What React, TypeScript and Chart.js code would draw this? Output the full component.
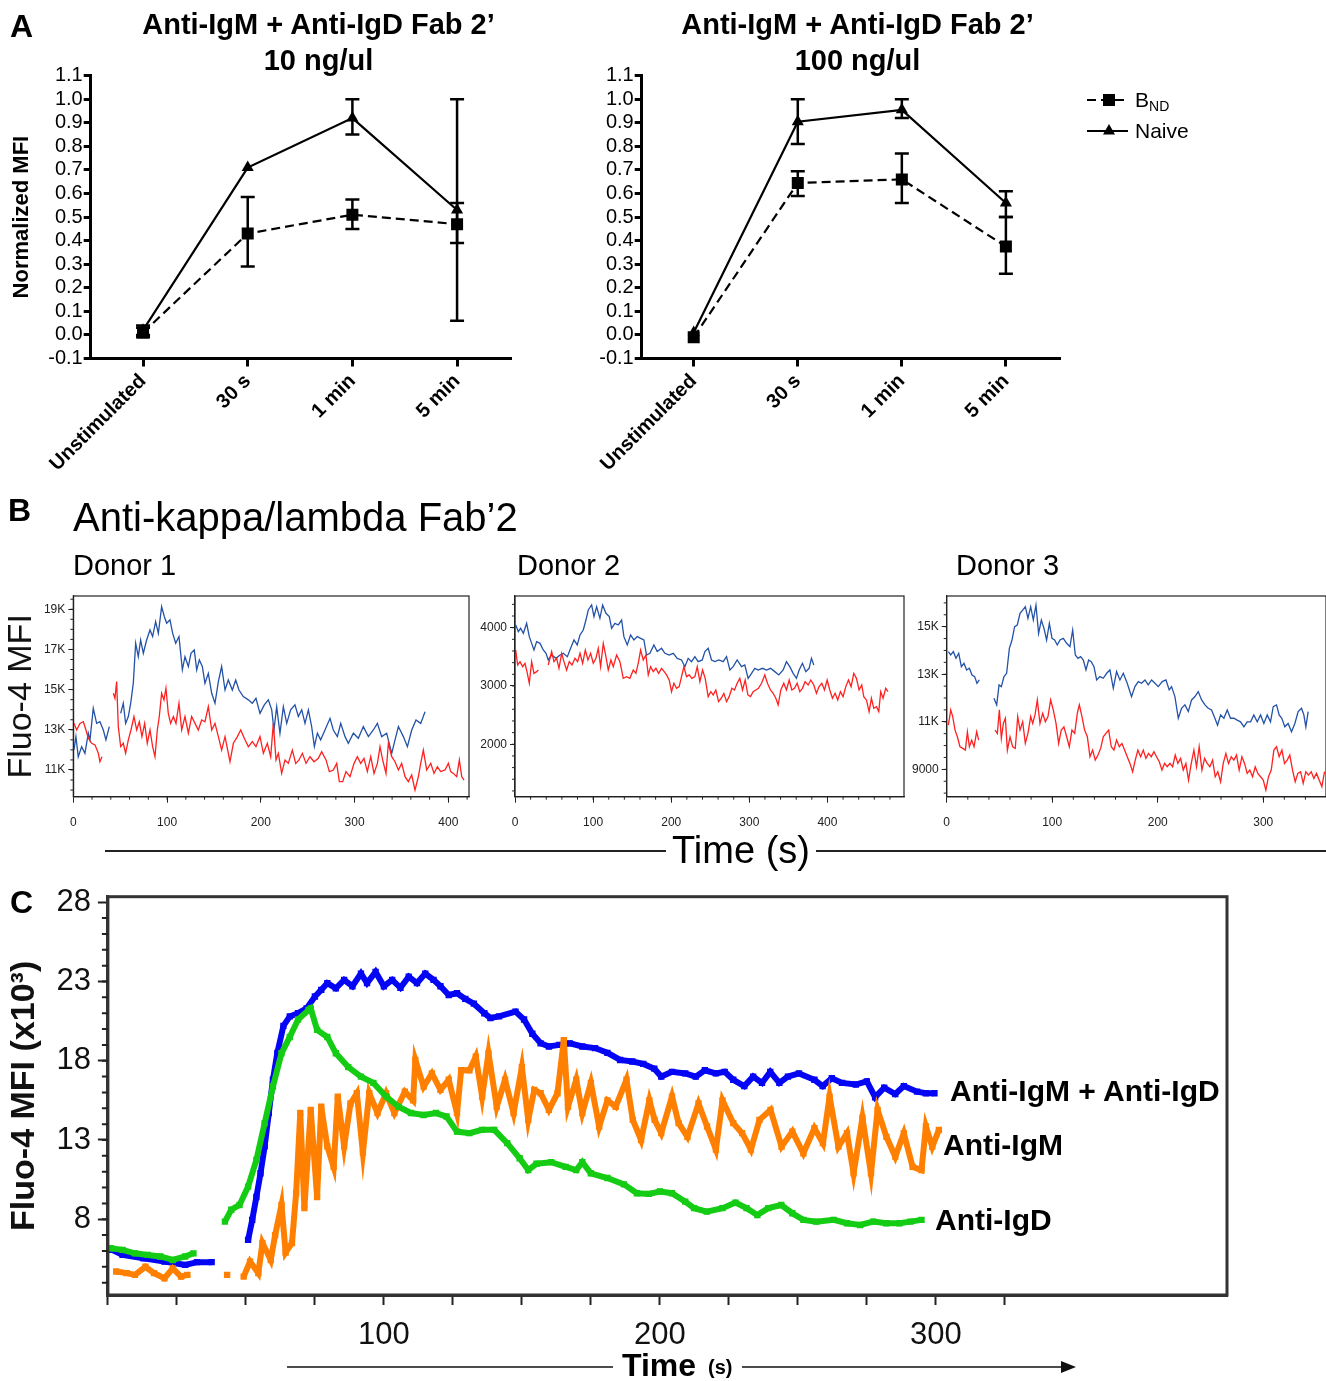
import React, { useEffect, useRef } from "react";
import { Chart, registerables } from "chart.js";

Chart.register(...registerables);

const SANS = "'Liberation Sans', Arial, Helvetica, sans-serif";
const NARROW = "'Liberation Sans Narrow', 'Arial Narrow', 'Liberation Sans', Arial, sans-serif";
Chart.defaults.font.family = SANS;

type Pt = [number, number];

// ---------------- Panel A data ----------------
const aCategories = ["Unstimulated", "30 s", "1 min", "5 min"];
const aYTicks = [-0.1, 0, 0.1, 0.2, 0.3, 0.4, 0.5, 0.6, 0.7, 0.8, 0.9, 1.0, 1.1];

const a10Bnd = [0.01, 0.43, 0.51, 0.47];
const a10BndLo = [-0.01, 0.29, 0.45, 0.39];
const a10BndHi = [0.03, 0.585, 0.575, 0.56];
const a10Naive = [0.02, 0.71, 0.92, 0.53];
const a10NaiveLo = [0.0, null, 0.85, 0.06];
const a10NaiveHi = [0.04, null, 1.0, 1.0];

const a100Bnd = [-0.01, 0.645, 0.66, 0.375];
const a100BndLo = [null, 0.59, 0.56, 0.26];
const a100BndHi = [null, 0.695, 0.77, 0.5];
const a100Naive = [0.01, 0.905, 0.955, 0.56];
const a100NaiveLo = [null, 0.81, 0.92, 0.5];
const a100NaiveHi = [null, 1.0, 1.0, 0.61];

// ---------------- Panel B data (time s, MFI) ----------------
// Donor 1 (values in thousands)
const b1BlueA: Pt[] = [[0.7,12.0],[2.8,12.66],[5.3,11.66],[8.9,12.16],[12.4,11.83],[16,12.83],[17.8,12.5],[21.3,14.07],[24.9,13.32],[28.4,13.4],[32,12.99],[34.8,12.5],[38.4,13.16]];
const b1BlueB: Pt[] = [[50.5,13.82],[53.3,14.32],[55.8,13.32],[58.7,13.66],[61.2,14.32],[64,15.32],[66.5,17.31],[69.3,16.64],[71.8,17.47],[74.7,16.81],[78.2,17.47],[81.8,17.97],[84.6,17.64],[87.8,18.39],[90.7,17.8],[94.2,19.13],[97.1,18.63],[99.6,18.3],[103.1,18.47],[106,17.8],[109.2,17.31],[112.7,17.64],[116.3,15.98],[119.1,16.64],[122.7,16.15],[125.5,16.81],[129,16.98],[131.6,15.98],[134.4,16.48],[137.6,16.15],[140.4,15.32],[144,15.81],[147.6,14.82],[151.1,14.32],[154.7,15.4],[158.2,16.15],[161.8,14.98],[165.3,15.48],[169.6,14.98],[173.2,15.48],[176.7,14.98],[181.3,14.65],[186.7,14.49],[190.9,14.32],[194.8,14.57],[199.1,13.82],[203.7,14.24],[208,14.49],[211.6,13.99],[214,12.99],[216.9,14.15],[220.4,12.83],[224,14.15],[227.6,13.32],[231.8,13.99],[236.4,14.24],[240,13.66],[243.6,13.99],[247.1,13.32],[250.7,13.99],[254.2,13.16],[257.1,12.16],[260.3,12.83],[263.8,12.5],[268.4,12.99],[273.8,13.57],[277.3,12.99],[281.6,12.66],[285.2,13.32],[289.8,12.66],[293.3,12.33],[298.7,12.83],[304,12.58],[309.3,13.16],[314.7,12.66],[320,12.99],[324.3,13.32],[328.9,12.66],[334.2,12.83],[339.6,11.83],[343.1,12.5],[346.7,13.16],[352,12.66],[356.3,12.16],[360.9,12.99],[365.5,13.49],[370.5,13.32],[375.1,13.9]];
const b1RedA: Pt[] = [[0.7,13.32],[3.6,12.99],[7.1,13.32],[10.7,13.4],[13.5,12.99],[16,12.58],[19.6,12.33],[23.1,12.25],[26.7,11.83],[28.4,11.41],[30.6,11.66]];
const b1RedB: Pt[] = [[42.7,14.82],[44.4,14.57],[46.2,15.4],[48,13.16],[50.5,12.16],[53.3,12.33],[55.8,11.83],[58.7,12.5],[61.5,12.99],[64.7,13.66],[67.6,12.99],[70.4,13.4],[73.2,12.66],[76.1,13.32],[78.9,12.33],[81.8,12.99],[84.6,12.16],[87.1,11.66],[89.6,12.99],[91.7,13.66],[94.2,14.82],[96.7,14.49],[98.8,15.07],[101.3,13.82],[103.8,13.32],[106.7,13.66],[109.5,13.32],[112.7,14.32],[115.6,12.99],[119.1,13.66],[122.7,12.83],[126.2,13.66],[129.8,13.32],[133.3,12.99],[136.9,13.49],[140.4,13.4],[144,14.15],[147.6,12.99],[151.1,13.32],[154.7,12.66],[158.2,11.99],[161.8,12.66],[167.1,11.41],[170.7,12.33],[175,12.66],[178.5,12.99],[183.1,12.5],[186.7,12.16],[190.9,12.41],[194.8,12.16],[199.1,12.66],[202.7,11.83],[206.9,12.33],[210.5,11.66],[213.3,13.32],[216.2,11.5],[218.7,11.83],[222.2,10.83],[225.8,11.5],[229.3,11.33],[233.6,11.99],[237.2,11.33],[240.7,11.5],[244.3,11.83],[248.2,11.33],[252.4,11.66],[256.7,11.41],[261.3,11.58],[264.9,11.91],[269.5,11.5],[273.1,10.92],[277.3,11.0],[280.9,11.33],[283.7,10.42],[287.3,10.42],[290.8,10.92],[295.1,10.67],[299.4,11.33],[302.9,11.66],[306.5,11.33],[310,11.58],[313.6,10.92],[317.2,11.66],[320.7,10.83],[324.3,11.33],[327.1,12.16],[329.9,11.5],[333.5,10.83],[336,12.33],[339.6,11.66],[343.1,11.41],[346.7,11.0],[350.2,11.33],[353.8,10.67],[357.3,10.42],[360.9,10.75],[364.4,10.0],[368,10.67],[370.5,11.33],[373.3,11.99],[376.9,11.0],[381.2,11.33],[384.7,10.83],[388.3,11.16],[391.8,10.92],[396.4,11.0],[400,11.33],[402.5,10.92],[405.3,10.83],[408.9,10.67],[411.7,11.5],[414.2,10.67],[416.7,10.5]];
const b1XTicks = [0, 100, 200, 300, 400];
const b1YTicks = [11, 13, 15, 17, 19];

// Donor 2 (raw values)
const b2Blue: Pt[] = [[0.9,4046],[4.3,3931],[7.2,3989],[10.7,3903],[14.9,4074],[18.3,3846],[21.3,3731],[24.3,3617],[27.7,3760],[32,3731],[36.2,3617],[39.7,3560],[42.6,3446],[46.9,3531],[52.5,3474],[57.6,3531],[61.8,3560],[67,3503],[71.2,3646],[75.5,3789],[79.7,3703],[83.2,3874],[87.4,3960],[90.8,4131],[93.8,4303],[98.1,4389],[101.1,4189],[104.5,4360],[108.7,4160],[112.2,4389],[116.4,4246],[120.7,4189],[123.7,3989],[127.9,4074],[132.2,4046],[136.5,4131],[139.4,3846],[143.7,3703],[148,3874],[152.2,3789],[156.5,3846],[160.8,3817],[165,3789],[168.4,3531],[172.7,3560],[177.8,3703],[182.1,3589],[187.6,3646],[191.9,3560],[197.4,3531],[202.6,3560],[207.7,3474],[213.2,3446],[217.5,3331],[221.7,3474],[226,3417],[230.3,3503],[234.5,3417],[239.7,3446],[243.1,3589],[247.3,3646],[251.6,3446],[255.9,3417],[261,3446],[266.5,3417],[270.8,3503],[275.1,3274],[279.3,3331],[284.4,3446],[290,3331],[294.2,3360],[298.5,3131],[302.8,3217],[307,3303],[311.3,3274],[316.8,3303],[322,3274],[327.1,3303],[332.6,3246],[337.7,3189],[343.3,3274],[347.5,3417],[351.8,3331],[356.1,3217],[360.3,3131],[363.8,3274],[368,3389],[372.3,3246],[376.5,3303],[379.5,3474],[382.5,3360]];
const b2RedA: Pt[] = [[0.9,3617],[3.4,3360],[6.4,3417],[9.8,3331],[12.8,3389],[15.8,3217],[18.3,3046],[21.3,3417],[24.3,3217],[27.7,3246],[29.9,3274]];
const b2RedB: Pt[] = [[42.6,3360],[46.9,3589],[49.9,3417],[53.3,3474],[56.3,3303],[59.7,3560],[62.7,3417],[66.1,3274],[69.5,3417],[72.9,3360],[76.8,3474],[80.2,3417],[83.2,3560],[86.6,3389],[90,3617],[93.4,3446],[96.8,3560],[100.2,3389],[103.6,3474],[106.6,3646],[109.6,3331],[113,3731],[116.4,3503],[119.4,3274],[122.8,3446],[125.8,3331],[130.1,3531],[134.3,3417],[138.6,3131],[142.9,3160],[147.1,3131],[151.4,3274],[154.8,3217],[158.2,3417],[160.8,3617],[164.2,3446],[167.6,3531],[170.6,3189],[173.6,3331],[177,3246],[180.4,3303],[183.8,3217],[187.6,3303],[191,3246],[194,3189],[197.4,3103],[200.4,2903],[203.4,3046],[206.8,2960],[210.2,2989],[213.2,3160],[216.2,3331],[219.6,3160],[223,3189],[226.4,3131],[230.3,3160],[233.3,3331],[236.7,3074],[240.1,3274],[243.5,3131],[247.3,2817],[250.7,2903],[253.7,2846],[257.1,2931],[260.6,2731],[264,2789],[267.4,2874],[270.8,2731],[274.2,2817],[277.6,2960],[281,2931],[284.4,3046],[287.8,3131],[291.3,2931],[294.7,3103],[298.1,2846],[301.5,2817],[304.9,2903],[308.3,2931],[311.7,2960],[315.6,3046],[319.8,3189],[323.2,3046],[327.1,2931],[330.5,2874],[333.9,2789],[336.9,2674],[340.3,2931],[344.1,3046],[347.5,2931],[351,3103],[354.4,2931],[357.8,2960],[361.2,3046],[364.6,2903],[368,2960],[371.4,3074],[375.3,3017],[378.7,3103],[382.5,3017],[385.9,2874],[389.3,2989],[392.8,3046],[396.2,2931],[399.6,3103],[403,2931],[406.4,2789],[409.8,2874],[413.2,2760],[416.6,2903],[420,2817],[423.5,2989],[426.9,3103],[430.3,2989],[433.7,3217],[437.1,3131],[440.5,2931],[443.9,3017],[446.5,2817],[449.9,2760],[453.3,2560],[456.3,2789],[459.3,2617],[462.7,2646],[465.7,2560],[468.2,2903],[471.2,2789],[474.6,2960],[477.6,2903]];
const b2XTicks = [0, 100, 200, 300, 400];
const b2YTicks = [2000, 3000, 4000];

// Donor 3 (values in thousands)
const b3BlueA: Pt[] = [[1.6,13.95],[3.8,13.81],[6.3,13.95],[8.8,13.67],[11.4,13.88],[13.9,13.32],[16.4,13.46],[18.9,13.18],[21.5,13.25],[24,12.97],[26.5,12.9],[28.7,12.62],[30.9,12.76]];
const b3BlueB: Pt[] = [[44.8,11.99],[47.4,11.71],[49.6,12.55],[51.8,12.48],[54.3,12.9],[56.8,13.04],[59.4,14.09],[61.9,14.44],[64.4,15.0],[66.9,15.07],[69.5,15.56],[72,15.7],[74.5,15.84],[77,15.35],[79.6,15.84],[82.1,15.28],[84.6,15.91],[87.1,14.72],[89.7,15.28],[92.2,14.93],[94.7,14.44],[97.3,15.14],[99.8,14.51],[102.3,14.44],[104.8,14.23],[107.4,14.44],[110.5,14.51],[113.7,14.3],[116.8,14.16],[119.4,14.86],[121.9,13.81],[124.4,13.67],[126.9,13.74],[129.5,13.6],[132,13.18],[134.5,13.6],[137,13.53],[139.6,13.32],[142.1,12.76],[145.2,12.9],[148.4,12.83],[151.6,13.04],[154.7,13.18],[157.9,12.41],[161,13.11],[164.2,12.76],[167.4,13.04],[171.1,12.62],[175.2,12.06],[178.4,12.48],[181.6,12.69],[184.7,12.62],[187.9,12.76],[191,12.55],[194.2,12.76],[197.4,12.62],[200.5,12.48],[204.3,12.69],[207.8,12.76],[210.9,12.34],[213.1,12.48],[216.3,12.06],[219.5,11.15],[222.6,11.57],[225.8,11.71],[229,11.43],[232.1,11.92],[235.3,12.06],[238.4,12.27],[241.6,11.92],[244.8,11.71],[247.9,11.57],[251,11.5],[254.2,11.15],[256.7,10.86],[259.6,11.29],[262.7,11.15],[265.9,11.5],[269,11.15],[272.2,11.15],[275.3,11.07],[278.5,11.0],[281.7,10.79],[284.8,11.0],[288,11.0],[291.1,11.29],[294.3,11.0],[297.5,11.29],[300.6,10.93],[303.8,11.29],[306.9,11.0],[309.5,11.64],[312.6,11.71],[315.1,11.29],[317.6,11.15],[320.5,10.79],[323.6,10.93],[326.8,10.58],[330,10.93],[333.1,11.43],[336.3,11.57],[338.5,11.29],[340.4,10.79],[342.6,11.43]];
const b3RedA: Pt[] = [[1.6,10.86],[3.8,11.5],[5.7,11.22],[7.9,10.65],[10.1,10.37],[12.6,9.95],[15.2,9.88],[17.7,9.81],[19.6,10.58],[21.5,9.95],[23.7,10.23],[25.9,9.95],[28.4,10.58],[30.3,10.23]];
const b3RedB: Pt[] = [[45.8,10.65],[48,10.51],[49.9,11.5],[51.8,10.3],[53.7,10.93],[55.6,11.15],[57.5,9.81],[60,10.37],[62.5,9.95],[65,9.88],[67.3,11.22],[69.5,10.65],[72,11.0],[74.5,10.09],[77,10.51],[79.6,11.22],[81.5,10.93],[83.7,11.29],[85.9,11.92],[88.4,10.93],[91,11.36],[93.5,11.0],[96,11.22],[98.5,11.92],[101,11.5],[103.6,10.93],[106.1,10.09],[108.6,10.65],[111.1,10.79],[113.7,10.37],[116.2,9.95],[118.7,10.65],[121.3,10.51],[123.8,11.36],[125.7,11.71],[128.2,11.22],[130.7,10.65],[133.3,10.37],[135.8,9.53],[138.3,9.81],[140.8,9.39],[143.4,9.6],[145.9,9.88],[148.4,10.37],[150.9,10.51],[153.5,10.65],[156,9.95],[158.5,9.81],[161,10.23],[163.6,9.95],[166.1,10.09],[168.6,9.81],[171.1,9.53],[173.7,9.25],[176.2,8.9],[178.7,9.39],[181.2,9.81],[183.8,9.53],[186.3,9.81],[188.8,9.46],[191.3,9.67],[193.9,9.53],[196.4,9.74],[198.9,9.53],[201.5,9.32],[204,8.97],[206.5,9.25],[209,9.11],[211.6,9.25],[214.1,9.11],[216.6,9.6],[219.1,9.25],[221.7,9.46],[224.2,8.97],[226.7,9.25],[229.2,8.55],[231.8,9.25],[234.3,9.81],[236.8,9.11],[239.3,9.95],[241.9,8.97],[244.4,9.46],[246.9,9.25],[249.4,9.11],[252,9.39],[254.5,8.69],[257,8.9],[259.6,8.48],[262.1,9.25],[264.6,9.67],[267.1,9.25],[269.7,9.53],[272.2,9.39],[274.7,9.6],[277.2,8.97],[279.8,9.53],[282.3,9.25],[284.8,8.83],[287.3,8.97],[289.9,8.69],[292.4,9.11],[294.9,8.83],[297.5,8.69],[300,8.55],[302.5,8.13],[305,8.69],[307.6,8.97],[310.1,9.81],[312.6,9.95],[315.1,9.53],[317.7,9.81],[320.2,9.25],[322.7,9.39],[325.2,9.6],[327.8,8.97],[330.3,8.48],[332.8,8.83],[335.4,8.9],[337.9,8.41],[340.4,8.9],[342.9,8.76],[345.5,8.9],[348,8.62],[350.5,8.83],[353,8.55],[355.6,8.27],[358.1,8.9]];
const b3XTicks = [0, 100, 200, 300];
const b3YTicks = [9, 11, 13, 15];

// ---------------- Panel C data (time s, MFI x10^3) ----------------
const cBlueA: Pt[] = [[1.5,6.07],[5.3,5.75],[12.9,5.54],[20.5,5.33],[28,5.12],[32.3,5.29],[37.6,5.29]];
const cBlueB: Pt[] = [[50.8,6.7],[52.3,7.96],[53.8,9.4],[55.3,10.9],[56.8,12.6],[58.3,14.7],[59.8,16.8],[61.4,18.5],[63.6,20.2],[65.9,20.8],[68.9,21.0],[72,21.3],[75,22.05],[77.3,22.47],[79.5,22.9],[82.6,22.57],[85.6,23.1],[88.6,22.7],[91.7,23.5],[93.9,22.9],[97,23.6],[100,22.7],[103,23.1],[106,22.6],[109,23.3],[112,22.9],[115,23.5],[118,23.1],[120.5,22.7],[123.5,22.15],[126.5,22.26],[129.5,21.9],[132.6,21.6],[136.4,21.0],[138.6,20.7],[141.7,20.8],[147.7,21.1],[150.8,20.6],[153.8,19.7],[156.8,19.1],[159.8,18.9],[163.6,19.0],[167.4,19.1],[171.9,18.9],[176.5,18.8],[181,18.5],[185.6,18.05],[190,17.95],[194,17.8],[198,17.5],[200.5,17.0],[204.4,17.3],[209.2,17.2],[213,17.0],[216.3,17.4],[220.3,17.2],[223.5,17.3],[226.6,16.8],[230.6,16.4],[233.8,17.0],[237,16.6],[240,17.3],[243.3,16.6],[246.4,17.0],[250.4,17.2],[256,16.8],[259,16.4],[262.3,16.9],[266,16.6],[271,16.5],[275,16.7],[278,15.7],[281.3,16.3],[285.3,15.9],[288.4,16.4],[293.2,16.05],[296.4,15.95],[299.5,15.95]];
const cGreenA: Pt[] = [[1,6.17],[5.3,6.07],[9.8,5.85],[14.4,5.75],[19,5.65],[23.5,5.43],[28,5.65],[31,5.85]];
const cGreenB: Pt[] = [[42.4,7.85],[44.7,8.6],[47.7,8.9],[50.8,10.06],[53.8,11.74],[56.8,14.06],[59.8,16.37],[62.9,18.47],[65.9,19.5],[68.9,20.6],[72.7,21.2],[73.5,21.3],[75.8,19.95],[79.5,19.5],[82.6,18.47],[87.1,17.6],[91.7,17.0],[96.2,16.6],[100.8,15.74],[105.3,15.1],[109.8,14.7],[114.4,14.58],[118.9,14.7],[122.7,14.48],[126.5,13.53],[131,13.43],[135.6,13.64],[140,13.64],[144.7,12.8],[149.2,11.85],[152.3,11.1],[155.3,11.5],[160.6,11.6],[165.9,11.3],[169.7,11.1],[171.9,11.6],[175,10.9],[181,10.6],[187,10.2],[191.7,9.64],[196,9.6],[200,9.75],[204.4,9.64],[209.2,9.11],[212.4,8.7],[217,8.48],[222.7,8.7],[227.4,9.05],[231.4,8.7],[235.3,8.27],[239.3,8.7],[244,8.9],[248,8.38],[252,7.96],[256.7,7.85],[263,7.96],[267.8,7.75],[272.6,7.64],[277.3,7.85],[282,7.75],[286.8,7.75],[290.8,7.85],[294.8,7.96]];
const cOrangeA: Pt[] = [[3,4.7],[6.8,4.6],[9.8,4.49],[13.6,5.0],[16.7,4.6],[20.5,4.28],[23.5,4.9],[26.5,4.38],[28.8,4.49]];
const cOrangeDot: Pt[] = [[43.2,4.49]];
const cOrangeB: Pt[] = [[49.2,4.38],[51.5,5.33],[54.5,4.6],[56,6.5],[59,5.43],[60.6,7.0],[62.9,8.9],[64.4,5.9],[66.7,6.5],[68.2,9.64],[69.7,14.7],[71.2,8.7],[73.5,14.9],[75.8,9.4],[77.3,15.1],[79.5,12.6],[81.8,11.3],[83.3,15.74],[85.6,12.6],[87.9,15.3],[90.2,15.95],[92.4,12.2],[94.7,15.95],[97.7,14.7],[100.8,15.95],[103.8,14.7],[107.6,16.05],[110.6,15.5],[111.4,18.05],[114.4,16.37],[117.4,17.2],[120.5,16.16],[123.5,16.8],[126.5,14.7],[128,17.4],[131,17.4],[133.3,18.26],[135.6,15.74],[137.9,18.47],[140.9,15.1],[143.9,16.8],[147,14.7],[150,17.6],[152.3,14.27],[154.5,16.16],[156.8,15.95],[159.8,14.9],[162.9,15.95],[165.2,19.3],[166.7,15.1],[169.7,16.8],[171.9,14.7],[175,16.6],[178,13.85],[181,15.5],[184,15.1],[187.9,16.8],[190.2,14.27],[193.2,13.0],[196.2,15.5],[198.1,14.27],[200.5,13.43],[204.4,15.74],[206.8,14.06],[210,13.2],[214,15.3],[217.1,13.85],[220.3,12.4],[222.7,15.5],[226.6,14.06],[229.8,13.43],[233,12.4],[236.1,14.27],[240.1,14.9],[244.1,12.58],[248,13.53],[252,12.16],[256,13.74],[259.1,12.8],[261.5,15.74],[264.7,12.58],[267.8,13.43],[270.2,10.9],[273.4,14.4],[276.5,10.9],[278.9,14.9],[282.1,13.2],[285.3,11.95],[288.4,13.43],[291.6,11.3],[294.8,11.1],[296.4,13.85],[298.7,12.58],[301.1,13.64]];
const cXTicks = [0, 25, 50, 75, 100, 125, 150, 175, 200, 225, 250, 275, 300, 325];
const cXLabelled = [100, 200, 300];
const cYTicks = [8, 13, 18, 23, 28];

// ---------------- helpers ----------------
const steps = (a: number, b: number, s: number) => {
  const r: number[] = [];
  for (let v = a; v <= b + 1e-9; v += s) r.push(Math.round(v * 1000) / 1000);
  return r;
};

function joinSegments(...segs: Pt[][]) {
  const out: any[] = [];
  segs.forEach((s, i) => {
    if (i > 0) {
      const prev = segs[i - 1];
      out.push({ x: (prev[prev.length - 1][0] + s[0][0]) / 2, y: null });
    }
    s.forEach(([x, y]) => out.push({ x, y }));
  });
  return out;
}

function framePlugin(color: string, width: number) {
  return {
    id: "frameBox",
    afterDatasetsDraw(chart: any) {
      const { ctx, chartArea: a } = chart;
      ctx.save();
      ctx.strokeStyle = color;
      ctx.lineWidth = width;
      ctx.strokeRect(a.left, a.top, a.right - a.left, a.bottom - a.top);
      ctx.restore();
    },
  };
}

function minorTicks(xVals: number[], yVals: number[], len: number, width: number, color: string) {
  return {
    id: "minorTicks",
    afterDraw(chart: any) {
      const { ctx, chartArea: a, scales } = chart;
      ctx.save();
      ctx.strokeStyle = color;
      ctx.lineWidth = width;
      ctx.beginPath();
      xVals.forEach((v) => {
        const p = scales.x.getPixelForValue(v);
        ctx.moveTo(p, a.bottom);
        ctx.lineTo(p, a.bottom + len);
      });
      yVals.forEach((v) => {
        const p = scales.y.getPixelForValue(v);
        ctx.moveTo(a.left, p);
        ctx.lineTo(a.left - len, p);
      });
      ctx.stroke();
      ctx.restore();
    },
  };
}

function errorBars(specs: { lo: (number | null)[]; hi: (number | null)[] }[], cap: number, width: number) {
  return {
    id: "errorBars",
    afterDatasetsDraw(chart: any) {
      const { ctx, scales } = chart;
      ctx.save();
      ctx.strokeStyle = "#000";
      ctx.lineWidth = width;
      ctx.setLineDash([]);
      specs.forEach((s) => {
        s.lo.forEach((lo, i) => {
          const hi = s.hi[i];
          if (lo == null || hi == null) return;
          const px = scales.x.getPixelForValue(i);
          const y1 = scales.y.getPixelForValue(lo);
          const y2 = scales.y.getPixelForValue(hi);
          ctx.beginPath();
          ctx.moveTo(px, y1);
          ctx.lineTo(px, y2);
          ctx.moveTo(px - cap / 2, y1);
          ctx.lineTo(px + cap / 2, y1);
          ctx.moveTo(px - cap / 2, y2);
          ctx.lineTo(px + cap / 2, y2);
          ctx.stroke();
        });
      });
      ctx.restore();
    },
  };
}

const baseOpts = {
  animation: false,
  responsive: false,
  devicePixelRatio: 1,
  events: [],
};

function aConfig(bnd: number[], bndLo: any[], bndHi: any[], naive: number[], naiveLo: any[], naiveHi: any[], yWidth: number, padRight: number, showTitle: boolean) {
  const toPts = (arr: number[]) => arr.map((v, i) => ({ x: i, y: v }));
  return {
    type: "line",
    data: {
      datasets: [
        { label: "BND", data: toPts(bnd), borderColor: "#000", backgroundColor: "#000", borderWidth: 2.2, borderDash: [9, 5], pointStyle: "rect", pointRadius: 8.5, pointBorderWidth: 0, tension: 0 },
        { label: "Naive", data: toPts(naive), borderColor: "#000", backgroundColor: "#000", borderWidth: 2.2, pointStyle: "triangle", pointRadius: 7, pointBorderWidth: 0, tension: 0 },
      ],
    },
    options: {
      ...baseOpts,
      layout: { padding: { top: 15.7, right: padRight, bottom: 0, left: 0 } },
      plugins: { legend: { display: false }, tooltip: { enabled: false } },
      scales: {
        x: {
          type: "linear",
          min: -0.5,
          max: 3.52,
          afterBuildTicks: (s: any) => { s.ticks = aCategories.map((_, i) => ({ value: i })); },
          afterFit: (s: any) => { s.height = 141.5; },
          ticks: {
            callback: (v: any) => aCategories[Math.round(Number(v))] || "",
            autoSkip: false, minRotation: 45, maxRotation: 45, padding: 3, color: "#000",
            font: { family: SANS, size: 20, weight: "bold" },
          },
          grid: { drawOnChartArea: false, drawTicks: true, tickLength: 8, tickWidth: 3, tickColor: "#000" },
          border: { display: true, color: "#000", width: 3 },
        },
        y: {
          type: "linear",
          min: -0.1,
          max: 1.1,
          afterBuildTicks: (s: any) => { s.ticks = aYTicks.map((v) => ({ value: v })); },
          afterFit: (s: any) => { s.width = yWidth; },
          ticks: { callback: (v: any) => Number(v).toFixed(1), autoSkip: false, padding: 1, color: "#000", font: { family: SANS, size: 20 } },
          grid: { drawOnChartArea: false, drawTicks: true, tickLength: 7, tickWidth: 3, tickColor: "#000" },
          border: { display: true, color: "#000", width: 3 },
          title: { display: showTitle, text: "Normalized MFI", color: "#000", font: { family: SANS, size: 22, weight: "bold" }, padding: { top: 8.8, bottom: 0 } },
        },
      },
    },
    plugins: [errorBars([{ lo: bndLo, hi: bndHi }, { lo: naiveLo, hi: naiveHi }], 14, 2.5)],
  };
}

function bConfig(o: any) {
  return {
    type: "line",
    data: {
      datasets: [
        { data: o.red, borderColor: "#FF2020", borderWidth: 1.3, pointRadius: 0, spanGaps: false, tension: 0, order: 0 },
        { data: o.blue, borderColor: "#2352A8", borderWidth: 1.3, pointRadius: 0, spanGaps: false, tension: 0, order: 1 },
      ],
    },
    options: {
      ...baseOpts,
      layout: { padding: { top: 16, right: o.padRight, bottom: 0, left: 0 } },
      plugins: { legend: { display: false }, tooltip: { enabled: false } },
      scales: {
        x: {
          type: "linear",
          min: 0,
          max: o.xMax,
          afterBuildTicks: (s: any) => { s.ticks = o.xTicks.map((v: number) => ({ value: v })); },
          afterFit: (s: any) => { s.height = 38.3; },
          ticks: { callback: (v: any) => String(v), autoSkip: false, maxRotation: 0, padding: 13, color: "#222", font: { family: NARROW, size: 12 } },
          grid: { drawOnChartArea: false, drawTicks: true, tickLength: 6, tickWidth: 1, tickColor: "#222" },
          border: { display: true, color: "#222", width: 1.2 },
        },
        y: {
          type: "linear",
          min: o.yMin,
          max: o.yMax,
          afterBuildTicks: (s: any) => { s.ticks = o.yTicks.map((v: number) => ({ value: v })); },
          afterFit: (s: any) => { s.width = o.yWidth; },
          ticks: { callback: o.yFmt, autoSkip: false, padding: 3, color: "#222", font: { family: NARROW, size: 12 } },
          grid: { drawOnChartArea: false, drawTicks: true, tickLength: 5, tickWidth: 1, tickColor: "#222" },
          border: { display: true, color: "#222", width: 1.2 },
          title: o.yTitle
            ? { display: true, text: o.yTitle, color: "#111", font: { family: SANS, size: 34 }, padding: { top: 1.6, bottom: 0 } }
            : { display: false },
        },
      },
    },
    plugins: [minorTicks(o.xMinor, o.yMinor, 3, 1, "#222"), framePlugin("#222", 1.2)],
  };
}

function cConfig() {
  const ds = (data: any[], color: string, order: number) => ({
    data, borderColor: color, backgroundColor: color, borderWidth: 6, pointStyle: "rect", pointRadius: 4.5,
    pointBorderWidth: 0, spanGaps: false, tension: 0, order,
  });
  return {
    type: "line",
    data: {
      datasets: [
        ds(joinSegments(cGreenA, cGreenB), "#14CC14", 0),
        ds(joinSegments(cOrangeA, cOrangeDot, cOrangeB), "#FF8000", 1),
        ds(joinSegments(cBlueA, cBlueB), "#0505F5", 2),
      ],
    },
    options: {
      ...baseOpts,
      layout: { padding: { top: 30.7, right: 99, bottom: 0, left: 0 } },
      plugins: { legend: { display: false }, tooltip: { enabled: false } },
      scales: {
        x: {
          type: "linear",
          min: 0,
          max: 405.5,
          afterBuildTicks: (s: any) => { s.ticks = cXTicks.map((v) => ({ value: v })); },
          afterFit: (s: any) => { s.height = 71; },
          ticks: {
            callback: (v: any) => (cXLabelled.includes(Number(v)) ? String(v) : ""),
            autoSkip: false, maxRotation: 0, padding: 12, color: "#111", font: { family: SANS, size: 31 },
          },
          grid: { drawOnChartArea: false, drawTicks: true, tickLength: 10, tickWidth: 2, tickColor: "#222" },
          border: { display: true, color: "#333", width: 3 },
        },
        y: {
          type: "linear",
          min: 3.22,
          max: 28.35,
          afterBuildTicks: (s: any) => { s.ticks = cYTicks.map((v) => ({ value: v })); },
          afterFit: (s: any) => { s.width = 107.9; },
          ticks: { callback: (v: any) => String(v), autoSkip: false, padding: 7, color: "#111", font: { family: SANS, size: 31 } },
          grid: { drawOnChartArea: false, drawTicks: true, tickLength: 10, tickWidth: 2, tickColor: "#222" },
          border: { display: true, color: "#333", width: 3 },
          title: { display: true, text: "Fluo-4 MFI (x10\u00B3)", color: "#111", font: { family: SANS, size: 34, weight: "bold" }, padding: { top: 4.6, bottom: 0 } },
        },
      },
    },
    plugins: [minorTicks([], steps(4, 27, 1), 6, 2, "#222"), framePlugin("#333", 3)],
  };
}

// ---------------- components ----------------
function ChartCanvas({ left, top, width, height, make }: any) {
  const ref = useRef<HTMLCanvasElement | null>(null);
  useEffect(() => {
    const chart = new Chart(ref.current as any, make());
    return () => chart.destroy();
  }, []);
  return (
    <canvas
      ref={ref}
      width={width}
      height={height}
      style={{ position: "absolute", left, top, width, height, display: "block" }}
    />
  );
}

function Txt({ x, y, size, bold, children, w, align, family }: any) {
  const style: any = {
    position: "absolute",
    top: y,
    fontSize: size,
    fontWeight: bold ? 700 : 400,
    lineHeight: 1,
    whiteSpace: "nowrap",
    fontFamily: family || SANS,
    color: "#000",
  };
  if (align === "center") {
    style.left = x - w / 2;
    style.width = w;
    style.textAlign = "center";
  } else {
    style.left = x;
  }
  return <div style={style}>{children}</div>;
}

export default function App() {
  return (
    <div style={{ position: "absolute", left: 0, top: 0, width: 1326, height: 1381, background: "#fff", overflow: "hidden", fontFamily: SANS }}>
      {/* Panel A */}
      <ChartCanvas left={0} top={60} width={520} height={440}
        make={() => aConfig(a10Bnd, a10BndLo, a10BndHi, a10Naive, a10NaiveLo, a10NaiveHi, 90.7, 7, true)} />
      <ChartCanvas left={550} top={60} width={520} height={440}
        make={() => aConfig(a100Bnd, a100BndLo, a100BndHi, a100Naive, a100NaiveLo, a100NaiveHi, 91.7, 10, false)} />

      {/* Panel B */}
      <ChartCanvas left={0} top={580} width={480} height={255}
        make={() => bConfig({
          blue: joinSegments(b1BlueA, b1BlueB), red: joinSegments(b1RedA, b1RedB),
          xMax: 422, yMin: 9.67, yMax: 19.66, xTicks: b1XTicks, yTicks: b1YTicks,
          yFmt: (v: any) => `${v}K`, xMinor: steps(20, 420, 20), yMinor: steps(10, 19.5, 0.5),
          yWidth: 73.3, padRight: 11, yTitle: "Fluo-4 MFI",
        })} />
      <ChartCanvas left={480} top={580} width={435} height={255}
        make={() => bConfig({
          blue: joinSegments(b2Blue), red: joinSegments(b2RedA, b2RedB),
          xMax: 498, yMin: 1101, yMax: 4543, xTicks: b2XTicks, yTicks: b2YTicks,
          yFmt: (v: any) => String(v), xMinor: steps(20, 480, 20), yMinor: steps(1200, 4400, 200),
          yWidth: 35, padRight: 11, yTitle: null,
        })} />
      <ChartCanvas left={900} top={580} width={426} height={255}
        make={() => bConfig({
          blue: joinSegments(b3BlueA, b3BlueB), red: joinSegments(b3RedA, b3RedB),
          xMax: 359.5, yMin: 7.85, yMax: 16.29, xTicks: b3XTicks, yTicks: b3YTicks,
          yFmt: (v: any) => (Number(v) >= 10 ? `${v}K` : String(Number(v) * 1000)),
          xMinor: steps(20, 340, 20), yMinor: steps(8, 16, 0.5),
          yWidth: 46.7, padRight: 0, yTitle: null,
        })} />

      {/* Panel C */}
      <ChartCanvas left={0} top={866} width={1326} height={500} make={() => cConfig()} />

      {/* decorations */}
      <svg width={1326} height={1381} style={{ position: "absolute", left: 0, top: 0, pointerEvents: "none" }}>
        {/* legend A */}
        <line x1={1087} y1={100} x2={1128} y2={100} stroke="#000" strokeWidth={2.2} strokeDasharray="9 5" />
        <rect x={1103} y={94} width={12} height={12} fill="#000" />
        <line x1={1087} y1={131} x2={1128} y2={131} stroke="#000" strokeWidth={2.2} />
        <polygon points="1109,124 1115,134.5 1103,134.5" fill="#000" />
        {/* B time axis */}
        <line x1={105} y1={851} x2={666} y2={851} stroke="#222" strokeWidth={2} />
        <line x1={816} y1={851} x2={1326} y2={851} stroke="#222" strokeWidth={2} />
        {/* C time arrow */}
        <line x1={287} y1={1367} x2={613} y2={1367} stroke="#111" strokeWidth={1.6} />
        <line x1={742} y1={1367} x2={1066} y2={1367} stroke="#111" strokeWidth={1.6} />
        <polygon points="1061,1361 1076,1367 1061,1373" fill="#111" />
      </svg>

      {/* Panel A texts */}
      <Txt x={10} y={10} size={32} bold>A</Txt>
      <Txt x={318.5} y={10} size={29} bold align="center" w={520}>Anti-IgM + Anti-IgD Fab 2’</Txt>
      <Txt x={318.5} y={46} size={29} bold align="center" w={300}>10 ng/ul</Txt>
      <Txt x={857.5} y={10} size={29} bold align="center" w={520}>Anti-IgM + Anti-IgD Fab 2’</Txt>
      <Txt x={857.5} y={46} size={29} bold align="center" w={300}>100 ng/ul</Txt>
      <Txt x={1135} y={89} size={21}>B<sub style={{ fontSize: 14, verticalAlign: "-4px" }}>ND</sub></Txt>
      <Txt x={1135} y={120} size={21}>Naive</Txt>

      {/* Panel B texts */}
      <Txt x={8} y={494} size={32} bold>B</Txt>
      <Txt x={73} y={497} size={40}>Anti-kappa/lambda Fab’2</Txt>
      <Txt x={73} y={551} size={29}>Donor 1</Txt>
      <Txt x={517} y={551} size={29}>Donor 2</Txt>
      <Txt x={956} y={551} size={29}>Donor 3</Txt>
      <Txt x={741} y={831} size={38} align="center" w={150}>Time (s)</Txt>

      {/* Panel C texts */}
      <Txt x={10} y={886} size={32} bold>C</Txt>
      <Txt x={950} y={1076} size={30} bold>Anti-IgM + Anti-IgD</Txt>
      <Txt x={943} y={1130} size={30} bold>Anti-IgM</Txt>
      <Txt x={935} y={1205} size={30} bold>Anti-IgD</Txt>
      <Txt x={622} y={1349} size={32} bold>Time</Txt>
      <Txt x={708} y={1357} size={20} bold>(s)</Txt>
    </div>
  );
}
